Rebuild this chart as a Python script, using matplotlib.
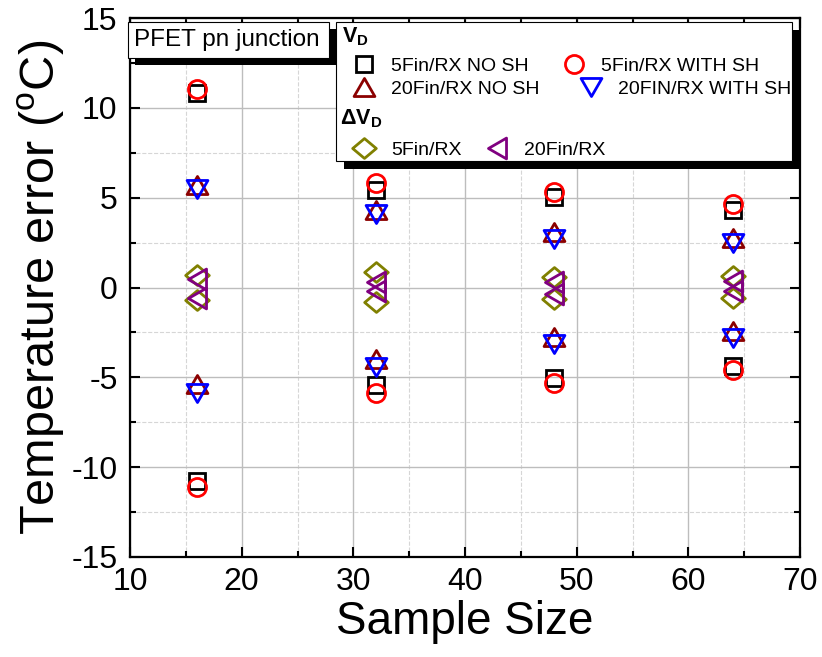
import matplotlib
matplotlib.use('Agg')
import matplotlib.pyplot as plt
from matplotlib.path import Path
from matplotlib.lines import Line2D
from matplotlib.legend import Legend
from matplotlib.patches import Rectangle
from matplotlib.ticker import MultipleLocator

plt.rcParams['font.family'] = ['Liberation Sans', 'DejaVu Sans']
plt.rcParams['mathtext.fontset'] = 'custom'
plt.rcParams['mathtext.rm'] = 'Liberation Sans'
plt.rcParams['mathtext.bf'] = 'Liberation Sans:bold'
plt.rcParams['axes.unicode_minus'] = False

# data: each series has an upper and a lower branch
sample_size = [16, 32, 48, 64]
sq_hi = [10.85, 5.43, 5.05, 4.33]
sq_lo = [-10.75, -5.44, -5.04, -4.39]
circ_hi = [11.05, 5.83, 5.30, 4.63]
circ_lo = [-11.1, -5.87, -5.31, -4.61]
up_hi = [5.69, 4.33, 3.07, 2.78]
up_lo = [-5.35, -4.00, -2.76, -2.43]
down_hi = [5.48, 4.09, 2.72, 2.48]
down_lo = [-5.89, -4.43, -3.17, -2.83]
diam_hi = [0.67, 0.85, 0.57, 0.63]
diam_lo = [-0.72, -0.83, -0.63, -0.59]
ltri_hi = [0.48, 0.33, 0.30, 0.35]
ltri_lo = [-0.56, -0.22, -0.35, -0.19]

labels = ['5Fin/RX NO SH', '5Fin/RX WITH SH', '20Fin/RX NO SH',
          '20FIN/RX WITH SH', '5Fin/RX', '20Fin/RX']

# equilateral-ish markers like Origin's
tri_up = Path([(-0.5, -0.433), (0.5, -0.433), (0, 0.433), (-0.5, -0.433)], closed=True)
tri_down = Path([(-0.5, 0.433), (0.5, 0.433), (0, -0.433), (-0.5, 0.433)], closed=True)
tri_left = Path([(-0.433, 0), (0.433, 0.5), (0.433, -0.5), (-0.433, 0)], closed=True)
diamond = Path([(0, 0.42), (0.5, 0), (0, -0.42), (-0.5, 0), (0, 0.42)], closed=True)

styles = [
    dict(marker='s', color='black', ms=11),
    dict(marker='o', color='#ff0000', ms=13),
    dict(marker=tri_up, color='#8b0000', ms=15),
    dict(marker=tri_down, color='#0000ff', ms=15),
    dict(marker=diamond, color='#808000', ms=17),
    dict(marker=tri_left, color='#800080', ms=15),
]
series = [(sq_hi, sq_lo), (circ_hi, circ_lo), (up_hi, up_lo),
          (down_hi, down_lo), (diam_hi, diam_lo), (ltri_hi, ltri_lo)]

fig = plt.figure(figsize=(8.22, 6.57), dpi=100)
ax = fig.add_axes([130/822, 1 - 557/657, 670/822, 539/657])

handles = []
for (hi, lo), st in zip(series, styles):
    for ys in (hi, lo):
        ax.plot(sample_size, ys, linestyle='none', marker=st['marker'],
                markersize=st['ms'], markerfacecolor='none',
                markeredgecolor=st['color'], markeredgewidth=2.0, zorder=3)
    handles.append(Line2D([], [], linestyle='none', marker=st['marker'],
                          markersize=st['ms'], markerfacecolor='none',
                          markeredgecolor=st['color'], markeredgewidth=2.0))

ax.set_xlim(10, 70)
ax.set_ylim(-15, 15)
ax.xaxis.set_major_locator(MultipleLocator(10))
ax.xaxis.set_minor_locator(MultipleLocator(5))
ax.yaxis.set_major_locator(MultipleLocator(5))
ax.yaxis.set_minor_locator(MultipleLocator(2.5))
ax.grid(which='major', color='#bdbdbd', linewidth=1.0, linestyle='-')
ax.grid(which='minor', color='#d6d6d6', linewidth=0.8, linestyle='--')
ax.set_axisbelow(True)
ax.tick_params(which='both', direction='in', top=True, right=True, width=1.5,
               labelsize=23)
ax.tick_params(which='major', length=7)
ax.tick_params(which='minor', length=4.5)
ax.tick_params(axis='x', pad=7)
ax.tick_params(axis='y', pad=9)
for sp in ax.spines.values():
    sp.set_linewidth(1.6)

ax.set_xlabel('Sample Size', fontsize=33, labelpad=2)
ax.set_ylabel(r'Temperature error ($^{\mathrm{o}}$C)', fontsize=35, labelpad=3)


def fx(px):
    return (px - 130) / 670


def fy(py):
    return 1 - (py - 18) / 539


def shadow_box(x0, y0, x1, y1, off):
    ax.add_patch(Rectangle((fx(x0 + off), fy(y1 + off)), fx(x1) - fx(x0),
                           fy(y0) - fy(y1), transform=ax.transAxes,
                           facecolor='black', edgecolor='black', lw=0,
                           clip_on=False, zorder=6))
    ax.add_patch(Rectangle((fx(x0), fy(y1)), fx(x1) - fx(x0), fy(y0) - fy(y1),
                           transform=ax.transAxes, facecolor='white',
                           edgecolor='black', lw=0.8, clip_on=False, zorder=6))


# legend frame and title box
shadow_box(336, 22, 792, 161, 8)
shadow_box(128, 22, 329, 58, 7)
ax.text(fx(134), fy(40), 'PFET pn junction', transform=ax.transAxes,
        fontsize=17.5, va='center', ha='left', zorder=8)

ax.text(fx(342), fy(37), r'$\mathbf{V}_{\mathbf{D}}$', transform=ax.transAxes,
        fontsize=15.5, va='center', ha='left', zorder=8)
ax.text(fx(340), fy(119), r'$\mathbf{\Delta V}_{\mathbf{D}}$', transform=ax.transAxes,
        fontsize=15.5, va='center', ha='left', zorder=8)

# one small legend per entry so each key sits where the original puts it
key_x = [364, 574, 364, 591, 364, 497]
key_y = [66, 66, 89, 89, 150, 150]
for h, lab, kx, ky in zip(handles, labels, key_x, key_y):
    leg = Legend(ax, [h], [lab], loc='center left',
                 bbox_to_anchor=(fx(kx - 14), fy(ky)),
                 bbox_transform=ax.transAxes, frameon=False, fontsize=14,
                 borderpad=0, borderaxespad=0, handlelength=1.45,
                 handletextpad=0.65)
    leg.set_zorder(9)
    ax.add_artist(leg)

fig.savefig('out.png', dpi=100)
